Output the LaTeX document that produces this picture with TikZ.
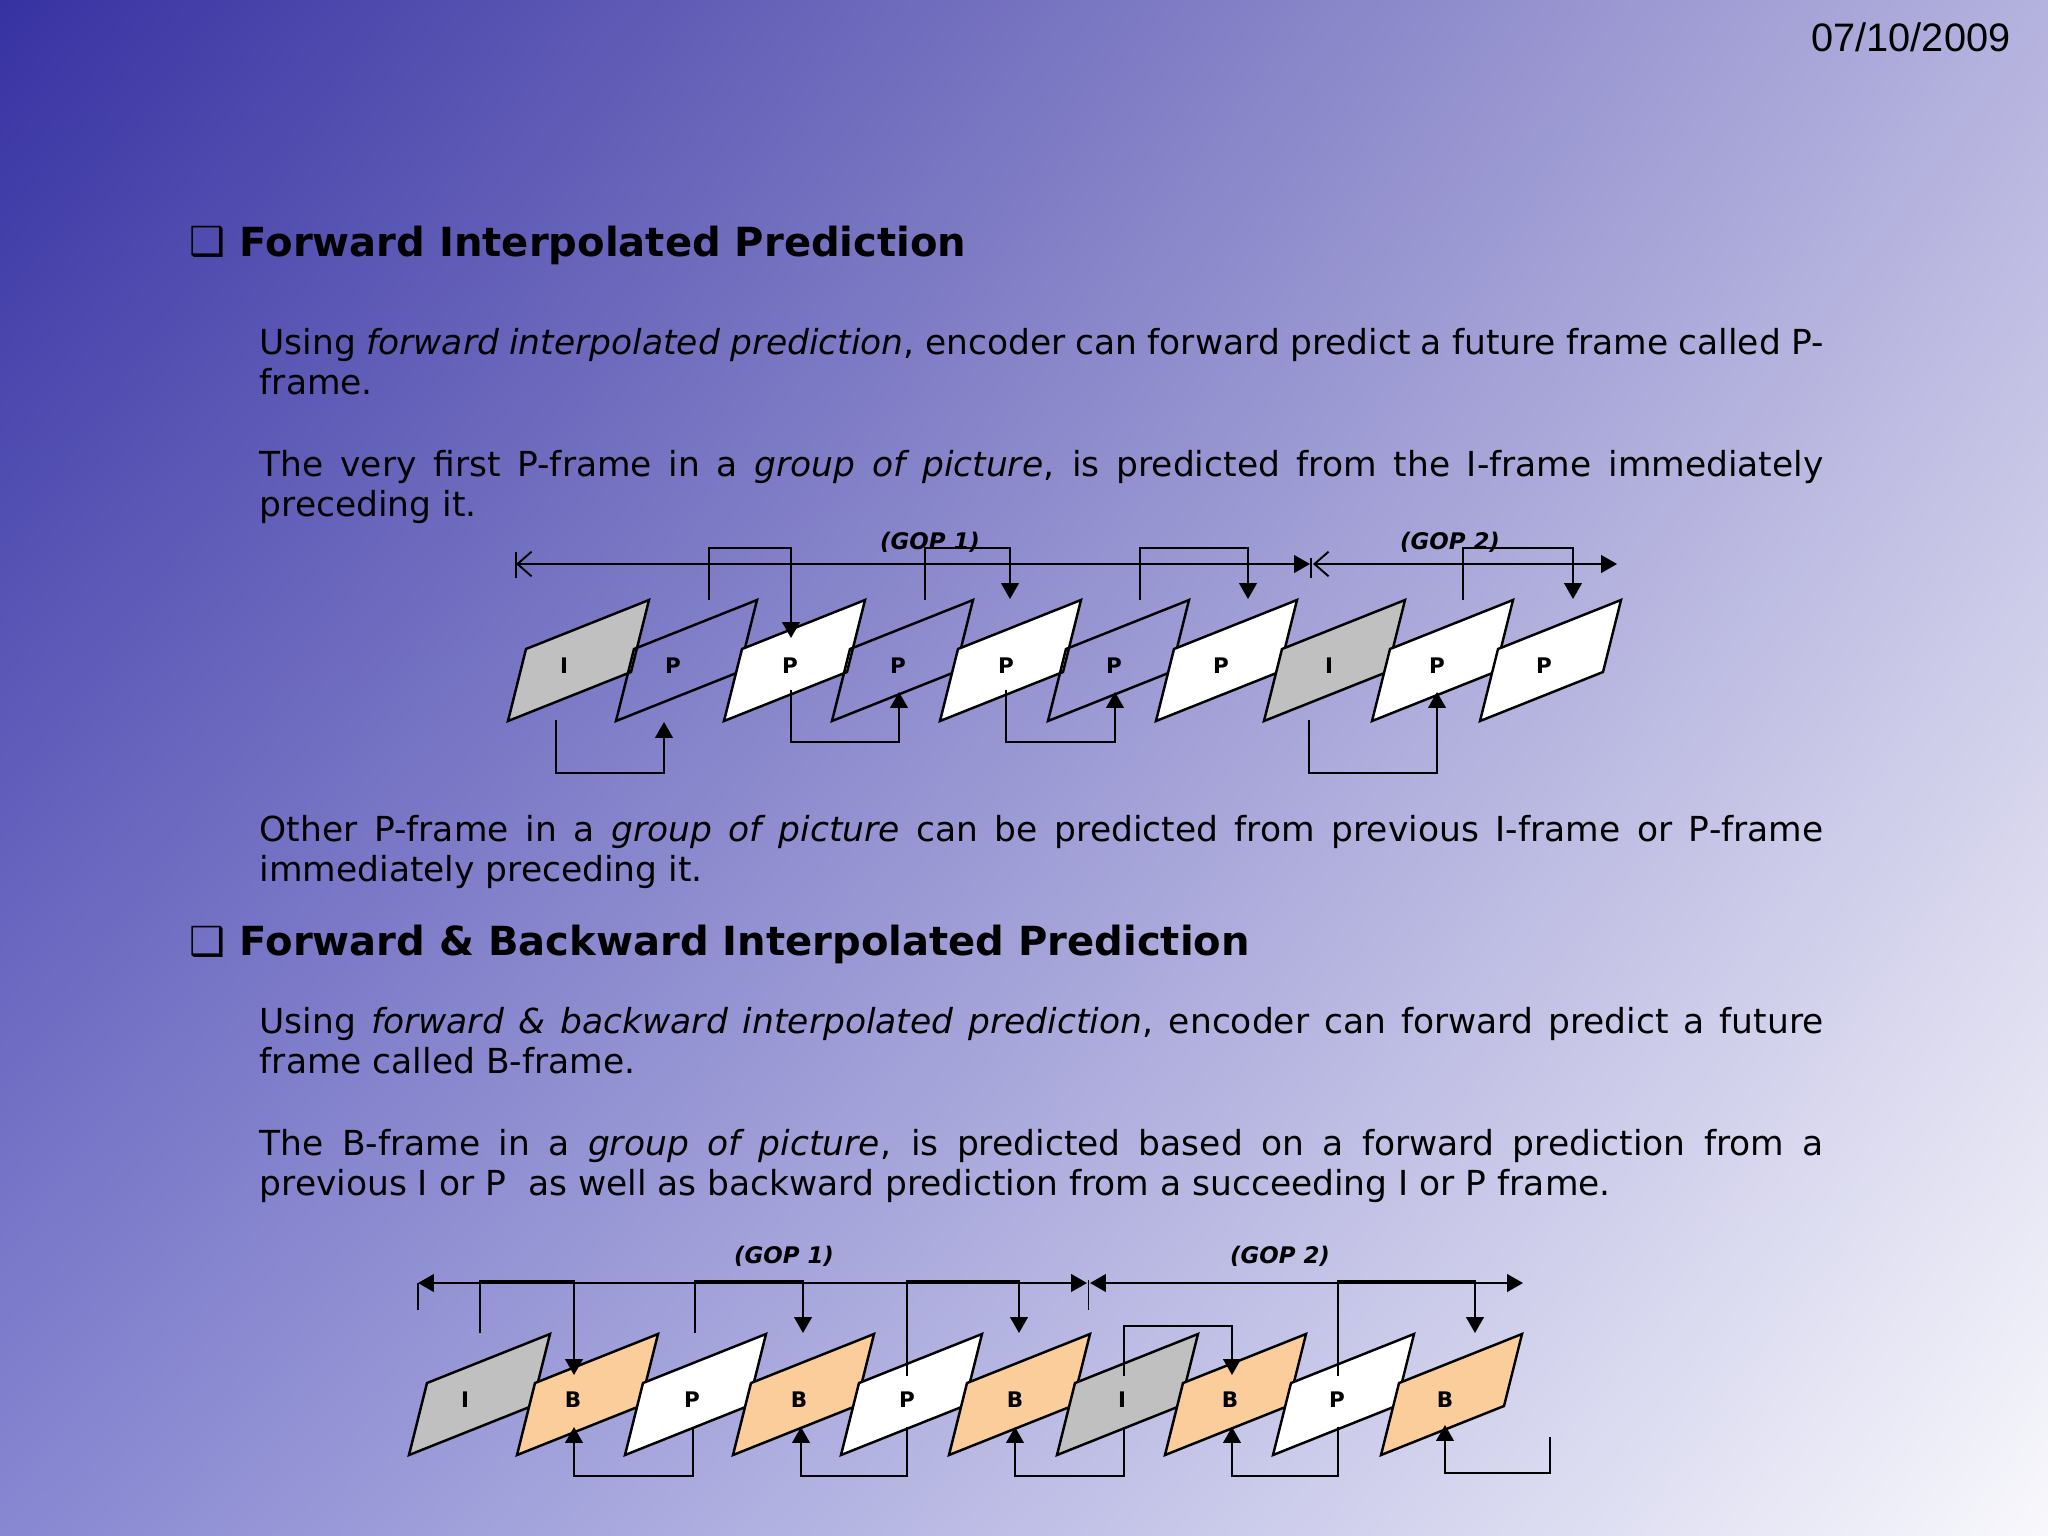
\documentclass[tikz,border=0pt]{standalone}
\usepackage{fontspec}
\setmainfont{DejaVu Sans}[ItalicFont=DejaVu Sans Oblique, BoldItalicFont=DejaVu Sans Bold Oblique]
\newfontfamily\datefont{Liberation Sans}
\usetikzlibrary{arrows.meta, calc, shadings}

\definecolor{framegray}{RGB}{192,192,192}
\definecolor{framepeach}{RGB}{250,205,155}
\definecolor{bgul}{RGB}{55,50,162}
\definecolor{bgur}{RGB}{180,178,222}
\definecolor{bgll}{RGB}{135,135,210}
\definecolor{bglr}{RGB}{248,248,252}

\begin{document}
\begin{tikzpicture}[x=0.01cm, y=-0.01cm,
  vframe/.style={draw=black, line width=0.7pt},
  iframe/.style={vframe, fill=framegray},
  pframe/.style={vframe, fill=white},
  oframe/.style={vframe},
  bframe/.style={vframe, fill=framepeach},
  lbl/.style={inner sep=0, font=\fontsize{6.1pt}{7pt}\selectfont\bfseries},
  gop/.style={inner sep=0, font=\fontsize{6.5pt}{7pt}\selectfont\bfseries\itshape},
  link/.style={draw=black, line width=0.55pt, -{Triangle[length=4.5pt,width=5pt]}},
  gopline/.style={draw=black, line width=0.55pt},
  para/.style={anchor=base west, inner sep=0, text width=15.63cm, align=justify,
    font=\fontsize{9.8pt}{11.5pt}\selectfont},
  heading/.style={anchor=base west, inner sep=0, font=\fontsize{11.4pt}{13pt}\selectfont\bfseries},
  bullet/.style={anchor=base west, inner sep=0, font=\fontsize{11.4pt}{13pt}\selectfont}]

  \shade[upper left=bgul, upper right=bgur, lower left=bgll, lower right=bglr]
    (0,0) rectangle (2048,1536);
  \useasboundingbox (0,0) rectangle (2048,1536);

  % texts
  \node[anchor=base east, inner sep=0, font=\datefont\fontsize{11.3pt}{13pt}\selectfont] (date) at (2011,51) {07/10/2009};

  \node[bullet] (bul1) at (189,255) {❑};
  \node[heading] (h1) at (239,256) {Forward Interpolated Prediction};
  \node[para] (p1) at (259,354) {Using \emph{forward interpolated prediction}, encoder can forward predict a future frame called P-\linebreak frame.};
  \node[para] (p2) at (259,476) {The very first P-frame in a \emph{group of picture}, is predicted from the I-frame immediately\linebreak preceding it.};
  \node[para] (p3) at (259,841) {Other P-frame in a \emph{group of picture} can be predicted from previous I-frame or P-frame\linebreak immediately preceding it.};

  \node[bullet] (bul2) at (189,955) {❑};
  \node[heading] (h2) at (239,955) {Forward \& Backward Interpolated Prediction};
  \node[para] (p4) at (259,1033) {Using \emph{forward \& backward interpolated prediction}, encoder can forward predict a future\linebreak frame called B-frame.};
  \node[para] (p5) at (259,1155) {The B-frame in a \emph{group of picture}, is predicted based on a forward prediction from a\linebreak previous I or P\ \ as well as backward prediction from a succeeding I or P frame.};

  % forward prediction frames
  \foreach \k/\t/\s/\o in {1/I/iframe/56, 2/P/oframe/57, 3/P/pframe/66, 4/P/oframe/66, 5/P/pframe/66,
                           6/P/oframe/66, 7/P/pframe/65, 8/I/iframe/65, 9/P/pframe/65, 10/P/pframe/64}{
    \coordinate (a\k) at ({508+108*(\k-1)},721);
    \draw[\s] (a\k) -- ++(18,-72) -- ++(123,-49) -- ++(-18,72) -- cycle;
    \node[lbl] (fa\k) at ($(a\k)+(\o,-55)$) {\t};
  }

  \coordinate (g1l) at (516,564);
  \coordinate (g1r) at (1310,564);
  \coordinate (g2l) at (1313,564);
  \coordinate (g2r) at (1617,564);
  \draw[gopline, {Straight Barb[length=4pt,width=7pt]}-{Triangle[length=4.5pt,width=5pt]}] (g1l) -- (g1r);
  \draw[gopline, {Straight Barb[length=4pt,width=7pt]}-{Triangle[length=4.5pt,width=5pt]}] (g2l) -- (g2r);
  \draw[gopline] ($(g1l)+(0,-12)$) -- ($(g1l)+(0,14)$);
  \draw[gopline] ($(g1r)+(1,-6)$) -- ($(g1r)+(1,14)$);
  \node[gop] (gop1) at (930,542) {(GOP 1)};
  \node[gop] (gop2) at (1450,542) {(GOP 2)};

  \draw[link] ($(a2)+(93,-121)$) -- ++(0,-52) -| ($(a3)+(67,-83)$);
  \draw[link] ($(a4)+(93,-121)$) -- ++(0,-52) -| ($(a5)+(70,-122)$);
  \draw[link] ($(a6)+(92,-121)$) -- ++(0,-52) -| ($(a7)+(92,-122)$);
  \draw[link] ($(a9)+(91,-121)$) -- ++(0,-52) -| ($(a10)+(93,-122)$);
  \draw[link] ($(a1)+(48,-1)$) -- ++(0,53) -| ($(a2)+(48,1)$);
  \draw[link] ($(a3)+(67,-31)$) -- ++(0,52) -| ($(a4)+(67,-29)$);
  \draw[link] ($(a5)+(66,-31)$) -- ++(0,52) -| ($(a6)+(67,-29)$);
  \draw[link] ($(a8)+(45,-1)$) -- ++(0,53) -| ($(a9)+(65,-29)$);

  % forward and backward prediction frames
  \foreach \k/\t/\s/\o in {1/I/iframe/56, 2/B/bframe/56, 3/P/pframe/67, 4/B/bframe/66, 5/P/pframe/66,
                           6/B/bframe/66, 7/I/iframe/65, 8/B/bframe/65, 9/P/pframe/64, 10/B/bframe/64}{
    \coordinate (b\k) at ({409+108*(\k-1)},1455);
    \draw[\s] (b\k) -- ++(18,-72) -- ++(123,-49) -- ++(-18,72) -- cycle;
    \node[lbl] (fb\k) at ($(b\k)+(\o,-55)$) {\t};
  }

  \coordinate (h1l) at (418,1283);
  \coordinate (h1r) at (1087,1283);
  \coordinate (h2l) at (1090,1283);
  \coordinate (h2r) at (1523,1283);
  \draw[gopline, {Triangle[length=4.5pt,width=5pt]}-{Triangle[length=4.5pt,width=5pt]}] (h1l) -- (h1r);
  \draw[gopline, {Triangle[length=4.5pt,width=5pt]}-{Triangle[length=4.5pt,width=5pt]}] (h2l) -- (h2r);
  \draw[gopline] (h1l) -- ++(0,27);
  \draw[gopline] ($(h1r)+(1.5,-3)$) -- ++(0,30);
  \node[gop] (gop3) at (784,1256) {(GOP 1)};
  \node[gop] (gop4) at (1280,1256) {(GOP 2)};

  \draw[link] ($(b1)+(71,-122)$) -- ++(0,-52) -| ($(b2)+(57,-80)$);
  \draw[link] ($(b3)+(70,-122)$) -- ++(0,-52) -| ($(b4)+(70,-122)$);
  \draw[link] ($(b5)+(66,-79)$) -- ++(0,-95) -| ($(b6)+(70,-122)$);
  \draw[link] ($(b7)+(67,-79)$) -- ++(0,-50) -| ($(b8)+(67,-80)$);
  \draw[link] ($(b9)+(65,-79)$) -- ++(0,-95) -| ($(b10)+(94,-122)$);
  \draw[link] ($(b3)+(68,-28)$) -- ++(0,49) -| ($(b2)+(57,-28)$);
  \draw[link] ($(b5)+(66,-28)$) -- ++(0,49) -| ($(b4)+(68,-28)$);
  \draw[link] ($(b7)+(67,-28)$) -- ++(0,49) -| ($(b6)+(66,-28)$);
  \draw[link] ($(b9)+(65,-28)$) -- ++(0,49) -| ($(b8)+(67,-28)$);
  \coordinate (tail) at (1550,1437);
  \draw[link] (tail) -- ++(0,36) -| ($(b10)+(64,-30)$);
\end{tikzpicture}
\end{document}
